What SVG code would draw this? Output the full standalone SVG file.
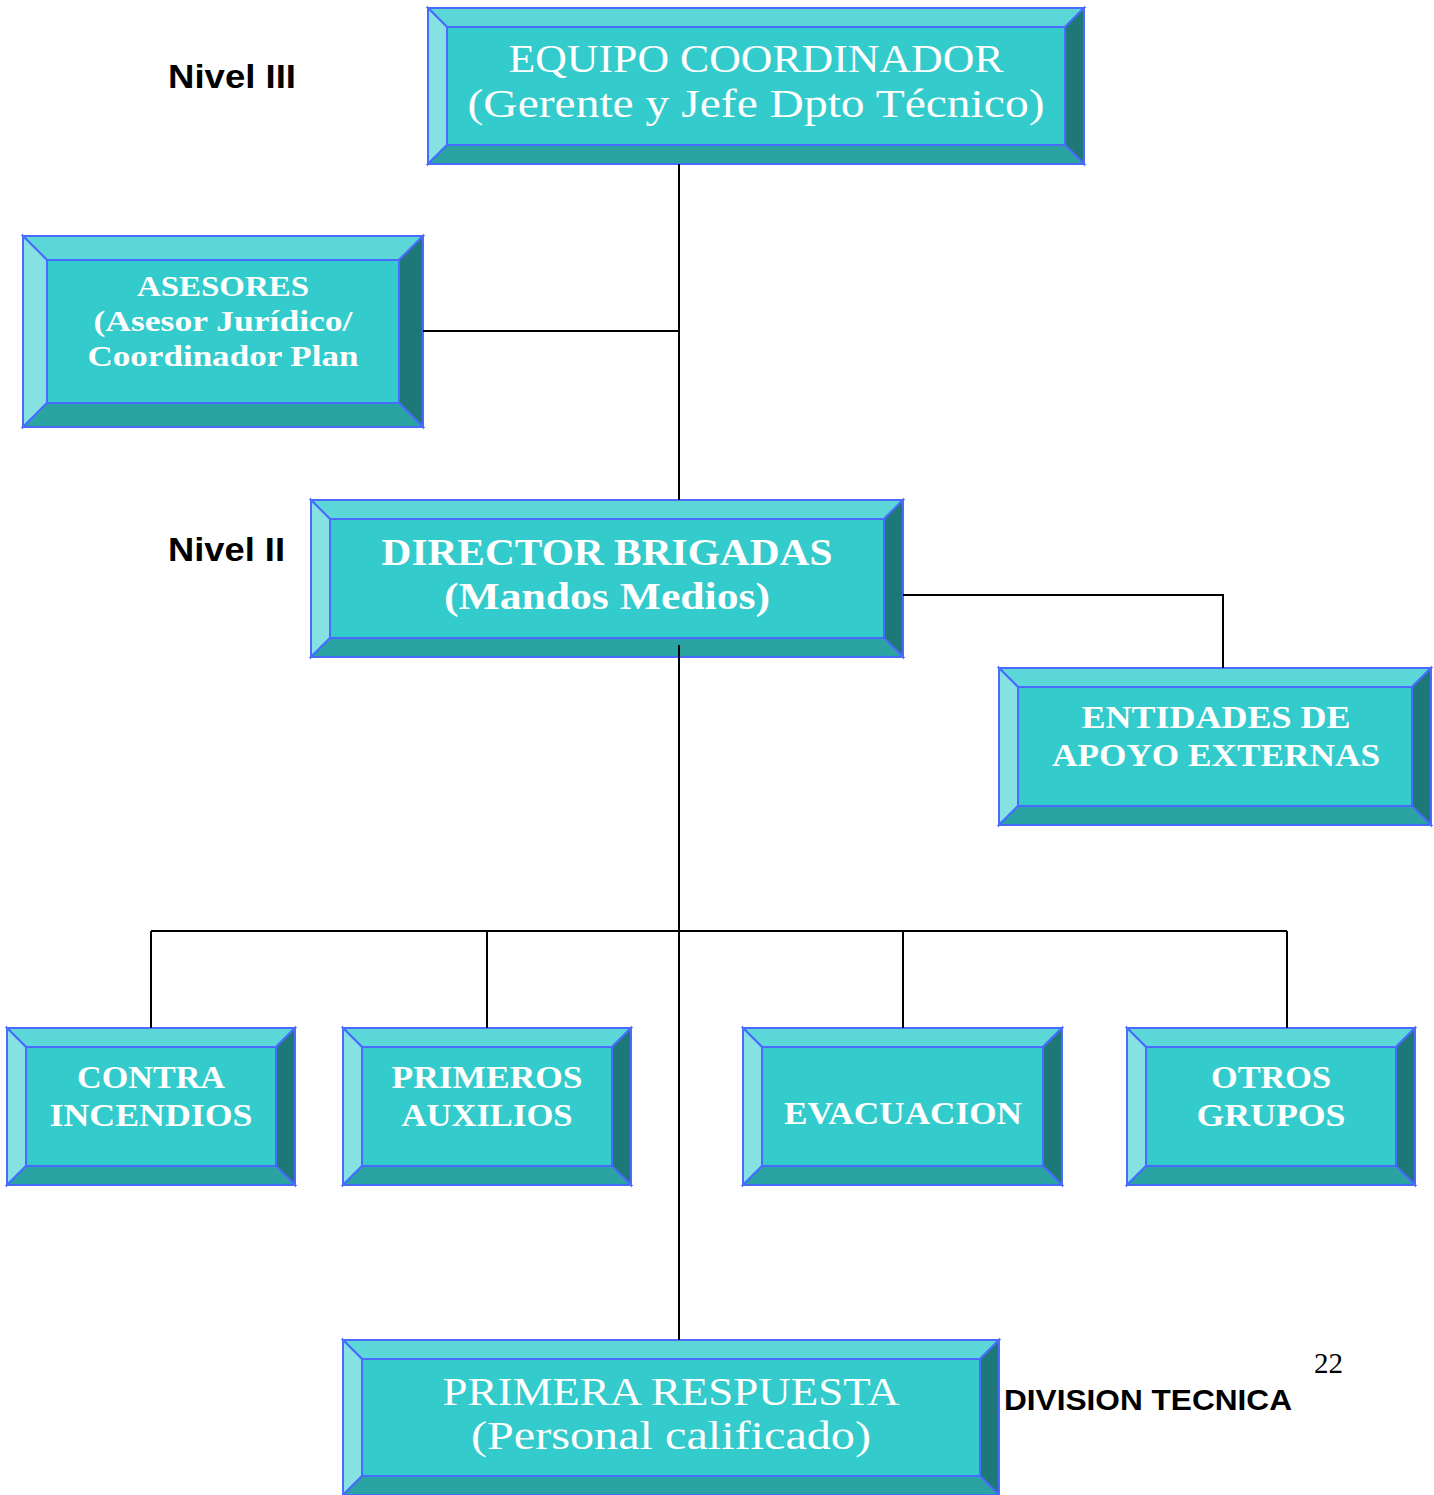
<svg xmlns="http://www.w3.org/2000/svg" width="1434" height="1495" viewBox="0 0 1434 1495">
<style>
.t{fill:#5BD7D7}.l{fill:#86E2E2}.r{fill:#1F7878}.b{fill:#2AA3A3}.f{fill:#33CBCB}
.t,.l,.r,.b,.f{stroke:#4A6BFF;stroke-width:2;stroke-linejoin:miter}
.bx{font-family:"Liberation Serif","Times New Roman",serif;fill:#fff;text-anchor:middle}
.bd{font-weight:bold}
.lv{font-family:"Liberation Sans",Arial,sans-serif;font-weight:bold;fill:#000}
.cn{stroke:#000;stroke-width:2;fill:none}
</style>
<rect width="1434" height="1495" fill="#fff"/>
<g id="equipo">
<polygon class="t" points="428,8 1084,8 1065,27 447,27"/>
<polygon class="l" points="428,8 447,27 447,145 428,164"/>
<polygon class="r" points="1084,8 1084,164 1065,145 1065,27"/>
<polygon class="b" points="428,164 447,145 1065,145 1084,164"/>
<rect class="f" x="447" y="27" width="618" height="118"/>
<text class="bx" x="756" y="72" font-size="40" textLength="495" lengthAdjust="spacingAndGlyphs">EQUIPO COORDINADOR</text>
<text class="bx" x="756" y="117" font-size="40" textLength="577" lengthAdjust="spacingAndGlyphs">(Gerente y Jefe Dpto Técnico)</text>
</g>
<g id="asesores">
<polygon class="t" points="23,236 423,236 399,260 47,260"/>
<polygon class="l" points="23,236 47,260 47,403 23,427"/>
<polygon class="r" points="423,236 423,427 399,403 399,260"/>
<polygon class="b" points="23,427 47,403 399,403 423,427"/>
<rect class="f" x="47" y="260" width="352" height="143"/>
<text class="bx bd" x="223" y="296" font-size="29" textLength="172" lengthAdjust="spacingAndGlyphs">ASESORES</text>
<text class="bx bd" x="223" y="331" font-size="29" textLength="259" lengthAdjust="spacingAndGlyphs">(Asesor Jurídico/</text>
<text class="bx bd" x="223" y="366" font-size="29" textLength="271" lengthAdjust="spacingAndGlyphs">Coordinador Plan</text>
</g>
<g id="director">
<polygon class="t" points="311,500 903,500 884,519 330,519"/>
<polygon class="l" points="311,500 330,519 330,638 311,657"/>
<polygon class="r" points="903,500 903,657 884,638 884,519"/>
<polygon class="b" points="311,657 330,638 884,638 903,657"/>
<rect class="f" x="330" y="519" width="554" height="119"/>
<text class="bx bd" x="607" y="565" font-size="38" textLength="451" lengthAdjust="spacingAndGlyphs">DIRECTOR BRIGADAS</text>
<text class="bx bd" x="607" y="609" font-size="38" textLength="326" lengthAdjust="spacingAndGlyphs">(Mandos Medios)</text>
</g>
<g id="entidades">
<polygon class="t" points="999,668 1431,668 1412,687 1018,687"/>
<polygon class="l" points="999,668 1018,687 1018,806 999,825"/>
<polygon class="r" points="1431,668 1431,825 1412,806 1412,687"/>
<polygon class="b" points="999,825 1018,806 1412,806 1431,825"/>
<rect class="f" x="1018" y="687" width="394" height="119"/>
<text class="bx bd" x="1216" y="728" font-size="32" textLength="269" lengthAdjust="spacingAndGlyphs">ENTIDADES DE</text>
<text class="bx bd" x="1216" y="766" font-size="32" textLength="328" lengthAdjust="spacingAndGlyphs">APOYO EXTERNAS</text>
</g>
<g id="contra">
<polygon class="t" points="7,1028 295,1028 276,1047 26,1047"/>
<polygon class="l" points="7,1028 26,1047 26,1166 7,1185"/>
<polygon class="r" points="295,1028 295,1185 276,1166 276,1047"/>
<polygon class="b" points="7,1185 26,1166 276,1166 295,1185"/>
<rect class="f" x="26" y="1047" width="250" height="119"/>
<text class="bx bd" x="151" y="1088" font-size="32" textLength="148" lengthAdjust="spacingAndGlyphs">CONTRA</text>
<text class="bx bd" x="151" y="1126" font-size="32" textLength="203" lengthAdjust="spacingAndGlyphs">INCENDIOS</text>
</g>
<g id="primeros">
<polygon class="t" points="343,1028 631,1028 612,1047 362,1047"/>
<polygon class="l" points="343,1028 362,1047 362,1166 343,1185"/>
<polygon class="r" points="631,1028 631,1185 612,1166 612,1047"/>
<polygon class="b" points="343,1185 362,1166 612,1166 631,1185"/>
<rect class="f" x="362" y="1047" width="250" height="119"/>
<text class="bx bd" x="487" y="1088" font-size="32" textLength="191" lengthAdjust="spacingAndGlyphs">PRIMEROS</text>
<text class="bx bd" x="487" y="1126" font-size="32" textLength="171" lengthAdjust="spacingAndGlyphs">AUXILIOS</text>
</g>
<g id="evacuacion">
<polygon class="t" points="743,1028 1062,1028 1043,1047 762,1047"/>
<polygon class="l" points="743,1028 762,1047 762,1166 743,1185"/>
<polygon class="r" points="1062,1028 1062,1185 1043,1166 1043,1047"/>
<polygon class="b" points="743,1185 762,1166 1043,1166 1062,1185"/>
<rect class="f" x="762" y="1047" width="281" height="119"/>
<text class="bx bd" x="903" y="1124" font-size="32" textLength="238" lengthAdjust="spacingAndGlyphs">EVACUACION</text>
</g>
<g id="otros">
<polygon class="t" points="1127,1028 1415,1028 1396,1047 1146,1047"/>
<polygon class="l" points="1127,1028 1146,1047 1146,1166 1127,1185"/>
<polygon class="r" points="1415,1028 1415,1185 1396,1166 1396,1047"/>
<polygon class="b" points="1127,1185 1146,1166 1396,1166 1415,1185"/>
<rect class="f" x="1146" y="1047" width="250" height="119"/>
<text class="bx bd" x="1271" y="1088" font-size="32" textLength="120" lengthAdjust="spacingAndGlyphs">OTROS</text>
<text class="bx bd" x="1271" y="1126" font-size="32" textLength="149" lengthAdjust="spacingAndGlyphs">GRUPOS</text>
</g>
<g id="primera">
<polygon class="t" points="343,1340 999,1340 980,1359 362,1359"/>
<polygon class="l" points="343,1340 362,1359 362,1476 343,1495"/>
<polygon class="r" points="999,1340 999,1495 980,1476 980,1359"/>
<polygon class="b" points="343,1495 362,1476 980,1476 999,1495"/>
<rect class="f" x="362" y="1359" width="618" height="117"/>
<text class="bx" x="671" y="1405" font-size="40" textLength="457" lengthAdjust="spacingAndGlyphs">PRIMERA RESPUESTA</text>
<text class="bx" x="671" y="1449" font-size="40" textLength="400" lengthAdjust="spacingAndGlyphs">(Personal calificado)</text>
</g>
<g id="connectors">
<line class="cn" x1="679" y1="164" x2="679" y2="500"/>
<line class="cn" x1="423" y1="331" x2="679" y2="331"/>
<line class="cn" x1="679" y1="645" x2="679" y2="1340"/>
<polyline class="cn" points="903,595 1223,595 1223,668"/>
<line class="cn" x1="151" y1="931" x2="1287" y2="931"/>
<line class="cn" x1="151" y1="931" x2="151" y2="1028"/>
<line class="cn" x1="487" y1="931" x2="487" y2="1028"/>
<line class="cn" x1="903" y1="931" x2="903" y2="1028"/>
<line class="cn" x1="1287" y1="931" x2="1287" y2="1028"/>
</g>
<text class="lv" x="168" y="88" font-size="34" textLength="128" lengthAdjust="spacingAndGlyphs">Nivel III</text>
<text class="lv" x="168" y="561" font-size="34" textLength="117" lengthAdjust="spacingAndGlyphs">Nivel II</text>
<text class="lv" x="1004" y="1410" font-size="30" textLength="288" lengthAdjust="spacingAndGlyphs">DIVISION TECNICA</text>
<text x="1314" y="1373" font-size="29" font-family="'Liberation Serif','Times New Roman',serif" fill="#000">22</text>
</svg>
